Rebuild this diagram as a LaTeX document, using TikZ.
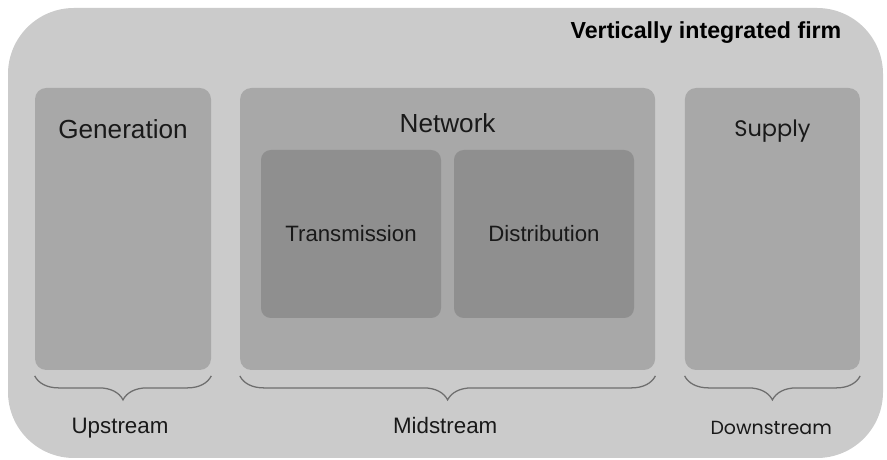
\documentclass[tikz,border=0pt]{standalone}
\usepackage{fontspec}
\setmainfont{Liberation Sans}
\newfontfamily\geofont{Poppins}
\usepackage{tikz}
\usetikzlibrary{positioning,decorations.pathreplacing}
\definecolor{firmgray}{HTML}{CBCBCB}
\definecolor{stagegray}{HTML}{A8A8A8}
\definecolor{partgray}{HTML}{8F8F8F}
\definecolor{bracegray}{HTML}{6E6E6E}
\tikzset{
  stagebox/.style={
    rectangle, rounded corners=8pt, fill=stagegray, draw=none,
    minimum width=#1, minimum height=7.05cm, inner sep=0pt
  },
  stagebox/.default=4.4cm,
  partbox/.style={
    rectangle, rounded corners=7pt, fill=partgray, draw=none,
    minimum width=4.5cm, minimum height=4.2cm, inner sep=0pt,
    font=\fontsize{15.8}{18}\selectfont, text=black!90
  },
  titlelabel/.style={
    font=\fontsize{18.6}{21}\selectfont, text=black!90
  },
  streamlabel/.style={
    font=\fontsize{15.9}{18}\selectfont, text=black!90
  },
  stagebrace/.style={
    decorate, decoration={brace, mirror, amplitude=0.6cm, raise=4pt},
    draw=bracegray, line width=0.9pt
  },
}
\begin{document}
\begin{tikzpicture}
  \useasboundingbox (0,0) rectangle (22.175,11.5);
  % the firm
  \fill[firmgray, rounded corners=1.65cm] (0.2,0.05) rectangle (22.075,11.3);
  \node[font=\bfseries\fontsize{16.5}{19}\selectfont, text=black] (firm) at (17.65,10.68) {Vertically integrated firm};

  % stages
  \node[stagebox] (gen) at (3.075,5.775) {};
  \node[stagebox=10.375cm] (net) at (11.19,5.775) {};
  \node[stagebox=4.375cm] (sup) at (19.31,5.775) {};
  \node[titlelabel, below=0.68cm of gen.north] (genlabel) {Generation};
  \node[titlelabel, below=0.52cm of net.north] (netlabel) {Network};
  \node[titlelabel, font=\geofont\fontsize{16}{19}\selectfont, below=0.68cm of sup.north] (suplabel) {Supply};

  % network parts
  \node[partbox] (trans) at (8.775,5.65) {Transmission};
  \node[partbox] (dist) at (13.6,5.65) {Distribution};

  % braces
  \draw[stagebrace] (gen.south west) -- (gen.south east);
  \draw[stagebrace] (net.south west) -- (net.south east);
  \draw[stagebrace] (sup.south west) -- (sup.south east);
  \node[streamlabel] (up) at (3.0,0.8) {Upstream};
  \node[streamlabel] (mid) at (11.13,0.87) {Midstream};
  \node[streamlabel, font=\geofont\fontsize{13.5}{16}\selectfont] (down) at (19.28,0.8) {Downstream};
\end{tikzpicture}
\end{document}
